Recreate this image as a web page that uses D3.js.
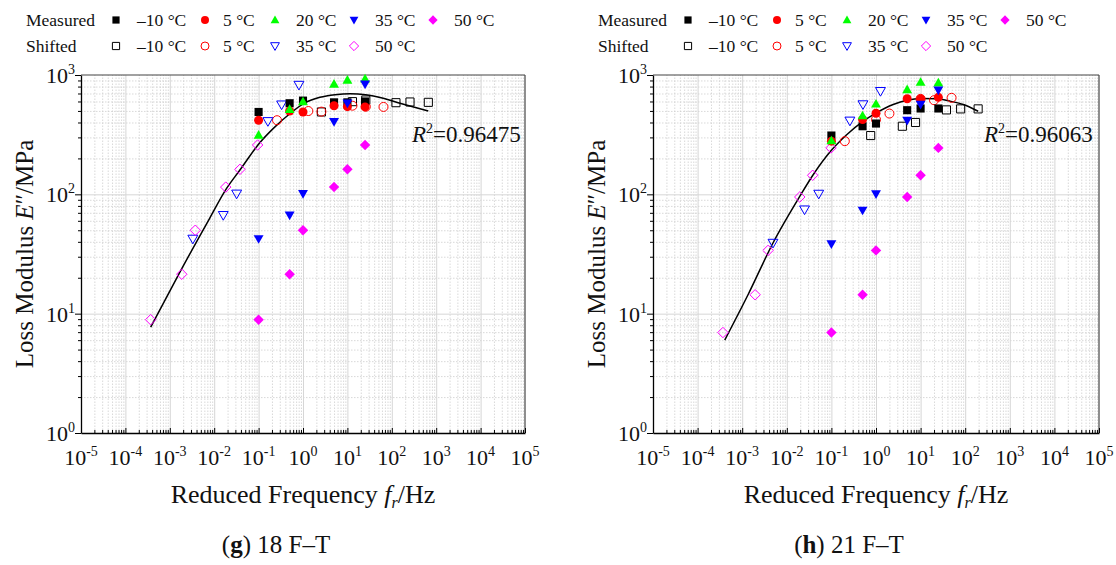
<!DOCTYPE html>
<html>
<head>
<meta charset="utf-8">
<script src="https://cdn.jsdelivr.net/npm/d3@7"></script>
<style>
  body { margin: 0; background: #fff; }
  svg text { font-family: "Liberation Serif", "DejaVu Serif", serif; fill: #111; }
  .grid-major line { stroke: #d6d6d6; stroke-width: 1; }
  .grid-minor line { stroke: #cfcfcf; stroke-width: 0.8; stroke-dasharray: 1.5,1.5; }
  .grid-major path, .grid-minor path { display: none; }
  .axis path, .axis line { stroke: #000; }
</style>
</head>
<body>
<svg id="chart" width="1116" height="565"></svg>
<script>
// measured frequencies (Hz)
const freqMeasured = [0.1, 0.5, 1, 5, 10, 25];

// ---- panel (g) 18 F-T ----
const g_meas_m10 = [490, 580, 610, 590, 590, 600];
const g_meas_5   = [418, 499, 490, 553, 543, 540];
const g_meas_20  = [314, 516, 598, 841, 908, 931];
const g_meas_35  = [42.3, 66.8, 101, 406, 579, 836];
const g_meas_50  = [8.9, 21.4, 50, 115, 162, 259];

const g_shift_m10_f = [2.6, 13, 26, 124, 257, 665];
const g_shift_m10   = [490, 598, 617, 586, 594, 590];
const g_shift_5_f   = [0.26, 1.32, 2.6, 13, 26, 65];
const g_shift_5     = [418, 499, 493, 553, 543, 540];
const g_shift_35_f  = [0.0033, 0.016, 0.032, 0.162, 0.33, 0.81];
const g_shift_35    = [42.3, 66.8, 101, 409, 564, 824];
const g_shift_50_f  = [0.00037, 0.00186, 0.00375, 0.0182, 0.038, 0.095];
const g_shift_50    = [8.9, 21.4, 50, 115, 162, 259];

const g_fit_f = [3.7e-4, 1.7e-3, 7.9e-3, 0.019, 0.038, 0.104, 0.215, 0.52, 1.05, 2.4, 5.3, 11.5, 25.8, 64, 153, 664];
const g_fit_E = [7.7, 22.4, 63, 112, 160, 268, 357, 478, 579, 650, 684, 697, 684, 638, 579, 499];
const g_r2 = "0.96475";

// ---- panel (h) 21 F-T ----
const h_meas_m10 = [311, 372, 392, 507, 524, 524];
const h_meas_5   = [279, 423, 478, 633, 630, 650];
const h_meas_20  = [282, 457, 573, 755, 871, 860];
const h_meas_35  = [38.4, 73.4, 100.7, 415, 566, 745];
const h_meas_50  = [6.95, 14.4, 33.9, 95, 144.5, 245];

const h_shift_m10_f = [0.76, 3.9, 7.7, 38, 79, 195];
const h_shift_m10   = [311, 372, 400, 510, 520, 520];
const h_shift_5_f   = [0.2, 1, 2, 10, 20, 49.5];
const h_shift_5     = [279, 423, 475, 631, 615, 644];
const h_shift_35_f  = [0.0049, 0.025, 0.052, 0.26, 0.51, 1.26];
const h_shift_35    = [39.1, 74.4, 100.7, 413, 566, 731];
const h_shift_50_f  = [0.00037, 0.00195, 0.0038, 0.0195, 0.038, 0.098];
const h_shift_50    = [6.95, 14.4, 33.9, 95, 144.5, 245];

const h_fit_f = [4.06e-4, 1.35e-3, 4.9e-3, 0.0195, 0.039, 0.1, 0.22, 0.51, 1.02, 2.43, 5.0, 10.2, 22.9, 45.7, 91, 195];
const h_fit_E = [6.0, 14.4, 39.1, 96, 146, 234, 316, 409, 482, 566, 615, 635, 631, 603, 566, 497];
const h_r2 = "0.96063";

// axis ticks
const xMajor = [-5, -4, -3, -2, -1, 0, 1, 2, 3, 4, 5];
const yMajor = [0, 1, 2, 3];

// legend
const legendTemps = ["\u201310 \u00b0C", "5 \u00b0C", "20 \u00b0C", "35 \u00b0C", "50 \u00b0C"];
const shiftedTemps = ["\u201310 \u00b0C", "5 \u00b0C", "35 \u00b0C", "50 \u00b0C"];

// series styles by temperature
const STYLE = {
    m10: { color: "#000000", shape: "square" },
    t5:  { color: "#ff0000", shape: "circle" },
    t20: { color: "#00ff00", shape: "up" },
    t35: { color: "#0000ff", shape: "down" },
    t50: { color: "#ff00ff", shape: "diamond" }
};

function symbolPath(shape, s) {
    // s = nominal marker size (px)
    if (shape === "square") {
        const h = s * 0.45;
        return `M${-h},${-h}H${h}V${h}H${-h}Z`;
    }
    if (shape === "circle") {
        const r = s * 0.5;
        return `M${r},0A${r},${r} 0 1,1 ${-r},0A${r},${r} 0 1,1 ${r},0Z`;
    }
    if (shape === "up") {
        const h = s * 0.55;
        return `M0,${-h}L${h},${h * 0.75}L${-h},${h * 0.75}Z`;
    }
    if (shape === "down") {
        const h = s * 0.55;
        return `M0,${h}L${h},${-h * 0.75}L${-h},${-h * 0.75}Z`;
    }
    if (shape === "diamond") {
        const h = s * 0.58;
        return `M0,${-h}L${h},0L0,${h}L${-h},0Z`;
    }
}

const svg = d3.select("#chart");

function drawPanel(cfg) {
    const x = d3.scaleLog().domain([1e-5, 1e5]).range([cfg.x0, cfg.x1]);
    const y = d3.scaleLog().domain([1, 1000]).range([cfg.y1, cfg.y0]);
    const w = cfg.x1 - cfg.x0, h = cfg.y1 - cfg.y0;

    const g = svg.append("g");

    const xMajorVals = xMajor.map(e => Math.pow(10, e));
    const yMajorVals = yMajor.map(e => Math.pow(10, e));
    const xMinorVals = [], yMinorVals = [];
    xMajor.slice(0, -1).forEach(e => { for (let k = 2; k <= 9; k++) xMinorVals.push(k * Math.pow(10, e)); });
    yMajor.slice(0, -1).forEach(e => { for (let k = 2; k <= 9; k++) yMinorVals.push(k * Math.pow(10, e)); });

    // minor grid
    g.append("g").attr("class", "grid-minor")
        .attr("transform", `translate(0,${cfg.y1})`)
        .call(d3.axisBottom(x).tickValues(xMinorVals).tickSize(-h).tickFormat(""));
    g.append("g").attr("class", "grid-minor")
        .attr("transform", `translate(${cfg.x0},0)`)
        .call(d3.axisLeft(y).tickValues(yMinorVals).tickSize(-w).tickFormat(""));
    // major grid
    g.append("g").attr("class", "grid-major")
        .attr("transform", `translate(0,${cfg.y1})`)
        .call(d3.axisBottom(x).tickValues(xMajorVals.slice(1, -1)).tickSize(-h).tickFormat(""));
    g.append("g").attr("class", "grid-major")
        .attr("transform", `translate(${cfg.x0},0)`)
        .call(d3.axisLeft(y).tickValues(yMajorVals.slice(1, -1)).tickSize(-w).tickFormat(""));

    // frame top/right
    g.append("line").attr("x1", cfg.x0).attr("x2", cfg.x1).attr("y1", cfg.y0).attr("y2", cfg.y0)
        .attr("stroke", "#444").attr("stroke-width", 1.2);
    g.append("line").attr("x1", cfg.x1).attr("x2", cfg.x1).attr("y1", cfg.y0).attr("y2", cfg.y1)
        .attr("stroke", "#444").attr("stroke-width", 1.2);

    // axes: x
    g.append("g").attr("class", "axis")
        .attr("transform", `translate(0,${cfg.y1})`)
        .call(d3.axisBottom(x).tickValues(xMinorVals).tickSize(-3).tickFormat(""))
        .call(a => a.select(".domain").remove());
    g.append("g").attr("class", "axis")
        .attr("transform", `translate(0,${cfg.y1})`)
        .call(d3.axisBottom(x).tickValues(xMajorVals).tickSizeInner(-5).tickSizeOuter(0).tickFormat(""))
        .call(a => a.select(".domain").attr("stroke-width", 1.3));
    // axes: y
    g.append("g").attr("class", "axis")
        .attr("transform", `translate(${cfg.x0},0)`)
        .call(d3.axisLeft(y).tickValues(yMinorVals).tickSize(3).tickFormat(""))
        .call(a => a.select(".domain").remove());
    g.append("g").attr("class", "axis")
        .attr("transform", `translate(${cfg.x0},0)`)
        .call(d3.axisLeft(y).tickValues(yMajorVals).tickSizeInner(6).tickSizeOuter(0).tickFormat(""))
        .call(a => a.select(".domain").attr("stroke-width", 1.3));

    // tick labels
    xMajor.forEach(e => {
        const t = g.append("text")
            .attr("x", x(Math.pow(10, e)))
            .attr("y", cfg.y1 + 32)
            .attr("text-anchor", "middle")
            .style("font-size", "22px");
        t.append("tspan").text("10");
        t.append("tspan").attr("dy", -9).style("font-size", "14px").text(String(e));
    });
    yMajor.forEach(e => {
        const t = g.append("text")
            .attr("x", cfg.x0 - 6)
            .attr("y", y(Math.pow(10, e)) + 8)
            .attr("text-anchor", "end")
            .style("font-size", "22px");
        t.append("tspan").text("10");
        t.append("tspan").attr("dy", -9).style("font-size", "14px").text(String(e));
    });

    // axis titles
    const xt = g.append("text")
        .attr("x", (cfg.x0 + cfg.x1) / 2)
        .attr("y", cfg.y1 + 70)
        .attr("text-anchor", "middle")
        .style("font-size", "26px");
    xt.append("tspan").text("Reduced Frequency ");
    xt.append("tspan").style("font-style", "italic").text("f");
    xt.append("tspan").style("font-style", "italic").style("font-size", "16px").attr("dy", 5).text("r");
    xt.append("tspan").attr("dy", -5).text("/Hz");

    const yt = g.append("text")
        .attr("transform", `translate(${cfg.x0 - 48},${(cfg.y0 + cfg.y1) / 2}) rotate(-90)`)
        .attr("text-anchor", "middle")
        .style("font-size", "25px");
    yt.append("tspan").text("Loss Modulus ");
    yt.append("tspan").style("font-style", "italic").text("E");
    yt.append("tspan").text("\u2033/MPa");

    // fitted curve
    const fit = cfg.fitF.map((f, i) => ({ f: f, E: cfg.fitE[i] }));
    g.append("path")
        .datum(fit)
        .attr("fill", "none")
        .attr("stroke", "#000")
        .attr("stroke-width", 1.5)
        .attr("d", d3.line().x(d => x(d.f)).y(d => y(d.E)).curve(d3.curveMonotoneX));

    // shifted (open) markers
    cfg.shifted.forEach(s => {
        g.selectAll(null)
            .data(s.f.map((f, i) => ({ f: f, E: s.E[i] })))
            .enter().append("path")
            .attr("transform", d => `translate(${x(d.f)},${y(d.E)})`)
            .attr("d", symbolPath(STYLE[s.key].shape, 9))
            .attr("fill", "none")
            .attr("stroke", STYLE[s.key].color)
            .attr("stroke-width", 1);
    });
    // measured (filled) markers
    cfg.measured.forEach(s => {
        g.selectAll(null)
            .data(freqMeasured.map((f, i) => ({ f: f, E: s.E[i] })))
            .enter().append("path")
            .attr("transform", d => `translate(${x(d.f)},${y(d.E)})`)
            .attr("d", symbolPath(STYLE[s.key].shape, 9))
            .attr("fill", STYLE[s.key].color)
            .attr("stroke", "none");
    });

    // R^2 annotation
    const r = g.append("text")
        .attr("x", cfg.x0 + 331)
        .attr("y", cfg.y0 + 67)
        .style("font-size", "23px");
    r.append("tspan").style("font-style", "italic").text("R");
    r.append("tspan").attr("dy", -9).style("font-size", "14px").text("2");
    r.append("tspan").attr("dy", 9).text("=" + cfg.r2);

    // legend
    const lx = cfg.x0 - 55;
    const measKeys = ["m10", "t5", "t20", "t35", "t50"];
    const shiftKeys = ["m10", "t5", "t35", "t50"];
    const symX = [116, 205, 275, 354, 433].map(v => v - 81 + cfg.x0);
    const txtX = [137, 223, 296, 375, 454].map(v => v - 81 + cfg.x0);

    g.append("text").attr("x", lx).attr("y", 26).style("font-size", "17.5px").text("Measured");
    g.append("text").attr("x", lx).attr("y", 52).style("font-size", "17.5px").text("Shifted");
    measKeys.forEach((k, i) => {
        g.append("path").attr("transform", `translate(${symX[i]},20)`)
            .attr("d", symbolPath(STYLE[k].shape, 8)).attr("fill", STYLE[k].color);
        g.append("text").attr("x", txtX[i]).attr("y", 26).style("font-size", "17.5px").text(legendTemps[i]);
    });
    shiftKeys.forEach((k, i) => {
        g.append("path").attr("transform", `translate(${symX[i]},46)`)
            .attr("d", symbolPath(STYLE[k].shape, 8)).attr("fill", "none")
            .attr("stroke", STYLE[k].color).attr("stroke-width", 1);
        g.append("text").attr("x", txtX[i]).attr("y", 52).style("font-size", "17.5px").text(shiftedTemps[i]);
    });

    // caption
    const c = g.append("text")
        .attr("x", (cfg.x0 + cfg.x1) / 2 - 27)
        .attr("y", 553)
        .attr("text-anchor", "middle")
        .style("font-size", "25px");
    c.append("tspan").text("(");
    c.append("tspan").style("font-weight", "bold").text(cfg.letter);
    c.append("tspan").text(") " + cfg.caption);
}

drawPanel({
    x0: 81, x1: 525, y0: 75, y1: 433,
    letter: "g", caption: "18 F\u2013T", r2: g_r2,
    fitF: g_fit_f, fitE: g_fit_E,
    measured: [
        { key: "m10", E: g_meas_m10 }, { key: "t5", E: g_meas_5 }, { key: "t20", E: g_meas_20 },
        { key: "t35", E: g_meas_35 }, { key: "t50", E: g_meas_50 }
    ],
    shifted: [
        { key: "m10", f: g_shift_m10_f, E: g_shift_m10 }, { key: "t5", f: g_shift_5_f, E: g_shift_5 },
        { key: "t35", f: g_shift_35_f, E: g_shift_35 }, { key: "t50", f: g_shift_50_f, E: g_shift_50 }
    ]
});

drawPanel({
    x0: 653, x1: 1099, y0: 75, y1: 433,
    letter: "h", caption: "21 F\u2013T", r2: h_r2,
    fitF: h_fit_f, fitE: h_fit_E,
    measured: [
        { key: "m10", E: h_meas_m10 }, { key: "t5", E: h_meas_5 }, { key: "t20", E: h_meas_20 },
        { key: "t35", E: h_meas_35 }, { key: "t50", E: h_meas_50 }
    ],
    shifted: [
        { key: "m10", f: h_shift_m10_f, E: h_shift_m10 }, { key: "t5", f: h_shift_5_f, E: h_shift_5 },
        { key: "t35", f: h_shift_35_f, E: h_shift_35 }, { key: "t50", f: h_shift_50_f, E: h_shift_50 }
    ]
});
</script>
</body>
</html>
